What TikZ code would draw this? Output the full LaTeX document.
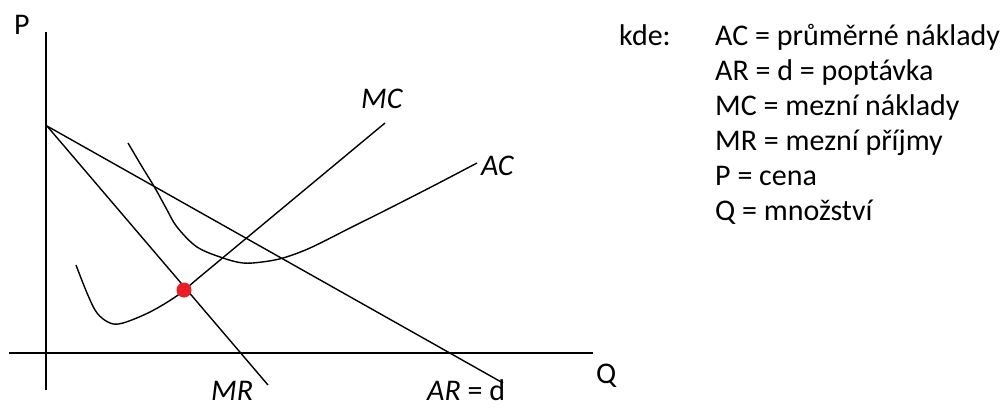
\documentclass[tikz,border=0pt]{standalone}
\usepackage{fontspec}
\setmainfont{Carlito}
\definecolor{paintred}{RGB}{237,28,36}
\begin{document}
\begin{tikzpicture}[x=1pt,y=-1pt,
  axis/.style={line width=2pt,black},
  curve/.style={line width=1.4pt,black},
  lbl/.style={anchor=base west,inner sep=0pt,font=\fontsize{30}{35}\selectfont},
  ilbl/.style={lbl,font=\fontsize{30}{35}\selectfont\itshape},
  dot/.style={circle,fill=paintred,draw=none,minimum size=15pt,inner sep=0pt}]
\useasboundingbox (0,0) rectangle (1003,408);
% axes
\coordinate (ytop) at (46,32);
\coordinate (ybot) at (46,390);
\coordinate (xl) at (9,353);
\coordinate (xr) at (593,353);
\draw[axis] (ytop) -- (ybot);
\draw[axis] (xl) -- (xr);
\node[lbl] (P) at (14,34) {P};
\node[lbl] (Q) at (596,383) {Q};
% demand and MR
\coordinate (pint) at (47,126);
\coordinate (arend) at (503,383);
\coordinate (mrend) at (268,385);
\draw[curve] (pint) -- (arend);
\draw[curve] (pint) -- (mrend);
% MC
\coordinate (mcend) at (385,123);
\draw[curve] plot[smooth,tension=0.55] coordinates {(76,265) (87,293) (97,313) (110,323) (123,323) (150,312) (177,295.8) (197,279.2) (223,257.6)} -- (mcend);
% AC
\draw[curve] plot[smooth,tension=0.55] coordinates {(128,143) (141,165) (155,188) (166,208) (177,227) (197,247) (223,258) (243,263) (262,262) (283,258) (310,248) (350,228) (390,208) (435,185) (477,163)};
% optimum
\node[dot] (opt) at (184,290) {};
% curve labels
\node[ilbl] (MC) at (361,108) {MC};
\node[ilbl] (AC) at (481,175) {AC};
\node[ilbl] (MR) at (211,400) {MR};
\node[lbl] (ARd) at (427,400) {\textit{AR} = d};
% legend
\node[lbl] (kde) at (619,45) {kde:};
\node[lbl] (l1) at (715,45) {AC = průměrné náklady};
\node[lbl] (l2) at (715,80) {AR = d = poptávka};
\node[lbl] (l3) at (715,115) {MC = mezní náklady};
\node[lbl] (l4) at (715,150) {MR = mezní příjmy};
\node[lbl] (l5) at (715,185) {P = cena};
\node[lbl] (l6) at (715,220) {Q = množství};
\end{tikzpicture}
\end{document}
